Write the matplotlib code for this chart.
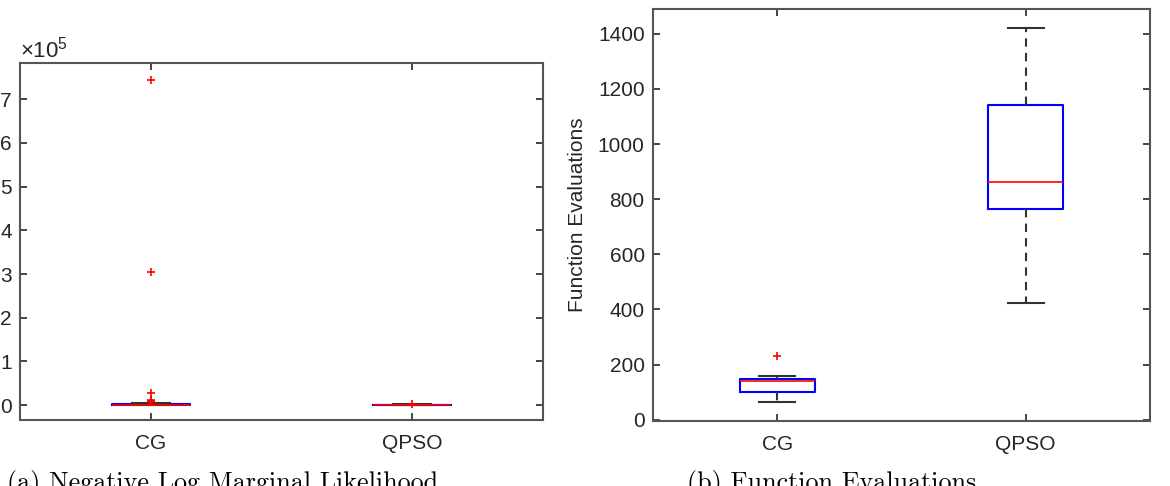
import matplotlib.pyplot as plt
from matplotlib.ticker import FuncFormatter

plt.rcParams['font.family'] = 'Liberation Sans'
plt.rcParams['mathtext.fontset'] = 'custom'
plt.rcParams['mathtext.rm'] = 'Liberation Sans'
plt.rcParams['mathtext.it'] = 'Liberation Sans'

methods = ['CG', 'QPSO']

# (a) negative log marginal likelihood, box stats
nlml_whislo = [50, 100]
nlml_q1 = [200, 300]
nlml_med = [800, 500]
nlml_q3 = [2000, 900]
nlml_whishi = [4500, 1500]
nlml_fliers = [[744000, 304000, 27000, 12000, 10500, 9000, 8000, 7000],
               [2500]]

# (b) function evaluations
fe_whislo = [65, 424]
fe_q1 = [101, 765]
fe_med = [141, 863]
fe_q3 = [149, 1142]
fe_whishi = [160, 1422]
fe_fliers = [[232], []]

captions = ['(a) Negative Log Marginal Likelihood', '(b) Function Evaluations']

grey = '#262626'


def make_stats(lo, q1, med, q3, hi, fl):
    out = []
    for i in range(len(methods)):
        out.append(dict(whislo=lo[i], q1=q1[i], med=med[i], q3=q3[i],
                        whishi=hi[i], fliers=fl[i], label=methods[i]))
    return out


def draw(ax, stats):
    ax.bxp(stats, positions=[1, 2], widths=0.3, capwidths=0.145,
           boxprops=dict(color='blue', lw=1.5),
           medianprops=dict(color='red', lw=1.2),
           whiskerprops=dict(color='#333333', lw=1.5, ls=(0, (4, 3))),
           capprops=dict(color='#333333', lw=1.5),
           flierprops=dict(marker='+', markeredgecolor='red', markersize=6,
                           markeredgewidth=1.2, linestyle='none'))
    ax.set_xlim(0.5, 2.5)
    ax.tick_params(direction='in', length=5, width=1.2, top=True, right=True,
                   labelsize=15, colors=grey, pad=6)
    ax.tick_params(axis='x', pad=10)
    for s in ax.spines.values():
        s.set_color('#555555')
        s.set_linewidth(1.5)


fig = plt.figure(figsize=(11.7, 4.86), dpi=100)
ax1 = fig.add_axes([0.0171, 0.1358, 0.447, 0.7346])
ax2 = fig.add_axes([0.5581, 0.1337, 0.4248, 0.8477])

draw(ax1, make_stats(nlml_whislo, nlml_q1, nlml_med, nlml_q3, nlml_whishi, nlml_fliers))
ax1.set_ylim(-0.34e5, 7.83e5)
ax1.set_yticks([i * 1e5 for i in range(8)])
ax1.yaxis.set_major_formatter(FuncFormatter(lambda v, p: '%d' % round(v / 1e5)))
ax1.text(0.0, 1.0, r'$\times10^{5}$', transform=ax1.transAxes, fontsize=16,
         color=grey, ha='left', va='bottom')

draw(ax2, make_stats(fe_whislo, fe_q1, fe_med, fe_q3, fe_whishi, fe_fliers))
ax2.set_ylim(-5, 1490)
ax2.set_yticks(range(0, 1401, 200))
ax2.set_ylabel('Function Evaluations', fontsize=15, color=grey, labelpad=8)

# captions sit at the bottom edge, partly cut off as in the original page
fig.text(0.1906, -0.008, captions[0], family='cmr10', fontsize=18.8,
         ha='center', va='baseline')
fig.text(0.711, -0.008, captions[1], family='cmr10', fontsize=18.8,
         ha='center', va='baseline')

fig.savefig('out.png', dpi=100)
